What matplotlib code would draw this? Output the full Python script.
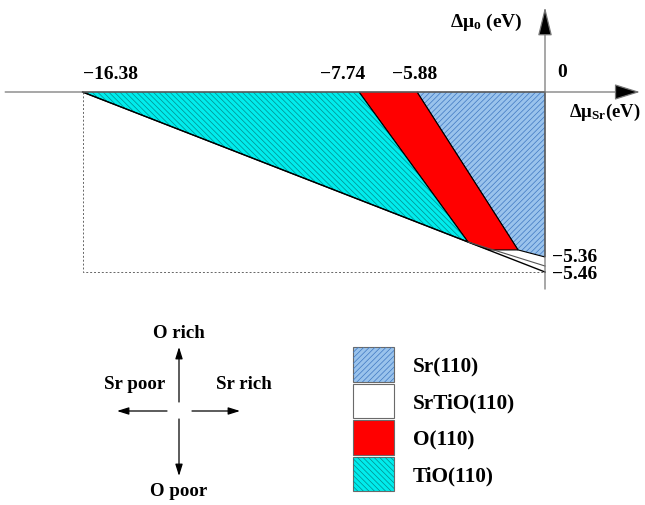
import numpy as np
import matplotlib
matplotlib.use('Agg')
import matplotlib.pyplot as plt
from matplotlib.patches import Patch

plt.rcParams['font.family'] = 'Liberation Serif'
plt.rcParams['font.weight'] = 'bold'
plt.rcParams['mathtext.fontset'] = 'custom'
plt.rcParams['mathtext.rm'] = 'Liberation Serif'
plt.rcParams['mathtext.it'] = 'Liberation Serif:italic'
plt.rcParams['mathtext.bf'] = 'Liberation Serif:bold'
plt.rcParams['hatch.linewidth'] = 0.5

# chemical potential limits (eV)
mu_sr_marks = [-16.38, -7.74, -5.88, 0.0]
mu_o_marks = [-5.46, -5.36, 0.0]

# surface stability regions: (dmu_Sr, dmu_O) corners
sr_region = ([-5.88, 0.0, 0.0, -1.24], [0.0, 0.0, -5.36, -5.13])
o_region = ([-7.74, -5.88, -1.24, -2.57, -3.54], [0.0, 0.0, -5.13, -5.13, -4.87])
tio_region = ([-16.38, -7.74, -3.54], [0.0, 0.0, -4.87])
srtio3_limit = ([-16.38, 0.0], [0.0, -5.46])
srtio_limit = ([-3.54, 0.0], [-4.87, -5.42])

surfaces = ['Sr(110)', 'SrTiO(110)', 'O(110)', 'TiO(110)']
face_cols = ['#9ac3ec', 'white', '#ff0000', '#00ecec']
hatch_cols = ['#3f78c2', None, None, '#008c8c']
hatches = ['//////', None, None, '\\\\\\\\\\\\']


def broken_axis(values, pos):
    # schematic (not to scale) axis: piecewise linear between the marked values
    def make(a, b):
        a = np.asarray(a, float)
        b = np.asarray(b, float)
        lo = (b[1] - b[0]) / (a[1] - a[0])
        hi = (b[-1] - b[-2]) / (a[-1] - a[-2])

        def f(v):
            v = np.asarray(v, float)
            out = np.interp(v, a, b)
            out = np.where(v < a[0], b[0] + (v - a[0]) * lo, out)
            return np.where(v > a[-1], b[-1] + (v - a[-1]) * hi, out)
        return f
    return make(values, pos), make(pos, values)


fig = plt.figure(figsize=(6.45, 5.06), dpi=100)
ax = fig.add_axes([0, 206 / 506, 1, 300 / 506])
fx, ix = broken_axis(mu_sr_marks, [82.5, 359, 417, 545])
fy, iy = broken_axis(mu_o_marks, [-273, -258, -93])
ax.set_xscale('function', functions=(fx, ix))
ax.set_yscale('function', functions=(fy, iy))
ax.set_xlim(float(ix(0)), float(ix(645)))
ax.set_ylim(float(iy(-300)), float(iy(0)))
ax.axis('off')

# axes with arrow heads
ax.annotate('', xy=(0.992, 0), xycoords=('axes fraction', 'data'),
            xytext=(0.008, 0), textcoords=('axes fraction', 'data'),
            arrowprops=dict(arrowstyle='-|>,head_length=0.8,head_width=0.25',
                            mutation_scale=20, ec='#777777', fc='black',
                            lw=0.9, shrinkA=0, shrinkB=0))
ax.annotate('', xy=(0, 0.973), xycoords=('data', 'axes fraction'),
            xytext=(0, 0.033), textcoords=('data', 'axes fraction'),
            arrowprops=dict(arrowstyle='-|>,head_length=0.9,head_width=0.22',
                            mutation_scale=20, ec='#777777', fc='black',
                            lw=0.9, shrinkA=0, shrinkB=0))

# bounding box of the allowed region
ax.plot([-16.38, -16.38, 0.0], [0.0, -5.46, -5.46], ls=(0, (2, 2)),
        color='#666666', lw=0.7)

regions = [sr_region, None, o_region, tio_region]
for reg, fc, hc, h in zip(regions, face_cols, hatch_cols, hatches):
    if reg is None:
        continue
    ax.fill(*reg, facecolor=fc, edgecolor='none', lw=0)
    if h:
        ax.fill(*reg, facecolor='none', edgecolor=hc, hatch=h, lw=0)
    ax.fill(*reg, facecolor='none', edgecolor='black', lw=0.8)

ax.plot(*srtio3_limit, color='black', lw=1.0)
ax.plot(*srtio_limit, color='#555555', lw=0.8)

tkw = dict(textcoords='offset points', fontsize=14, fontweight='bold', va='center')
ax.annotate('\u221216.38', xy=(-16.38, 0), xytext=(0, 13), ha='left', **tkw)
ax.annotate('\u22127.74', xy=(-7.74, 0), xytext=(-11.5, 13), ha='center', **tkw)
ax.annotate('\u22125.88', xy=(-5.88, 0), xytext=(-2, 13), ha='center', **tkw)
ax.annotate('0', xy=(0, 0), xytext=(12, 14.5), ha='center', **tkw)
ax.annotate('\u22125.36', xy=(0, -5.36), xytext=(5, 0), ha='left', **tkw)
ax.annotate('\u22125.46', xy=(0, -5.46), xytext=(5, -1), ha='left', **tkw)

ax.annotate(r'$\mathrm{\Delta\mu}_{\mathrm{o}}$ (eV)', xy=(0, 1),
            xycoords=('data', 'axes fraction'), xytext=(-16, -16),
            textcoords='offset points', ha='right', va='center',
            fontsize=14, fontweight='bold')
ax.annotate(r'$\mathrm{\Delta\mu}_{\mathbf{Sr}}$(eV)', xy=(0, 0),
            xytext=(17, -14), textcoords='offset points', ha='left',
            va='center', fontsize=13.5, fontweight='bold')

# direction key
ax2 = fig.add_axes([0, 0, 1, 206 / 506])
ax2.set_xlim(0, 645)
ax2.set_ylim(506, 300)
ax2.axis('off')
akw = dict(arrowstyle='-|>,head_length=0.7,head_width=0.22', mutation_scale=10,
           color='black', lw=0.9, shrinkA=0, shrinkB=0)
for tip, tail in [((179, 348), (179, 403)), ((179, 477), (179, 420)),
                  ((117, 412), (167, 412)), ((240, 412), (192, 412))]:
    ax2.annotate('', xy=tip, xytext=tail, arrowprops=akw)
ckw = dict(fontsize=13.6, fontweight='bold', ha='center', va='center')
ax2.text(179, 334, 'O rich', **ckw)
ax2.text(179, 492, 'O poor', **ckw)
ax2.text(135, 385, 'Sr poor', **ckw)
ax2.text(244, 385, 'Sr rich', **ckw)

handles = []
for fc, hc, h in zip(face_cols, hatch_cols, hatches):
    box = Patch(facecolor=fc, edgecolor='#6a6a6a', lw=0.8)
    if h:
        handles.append((box, Patch(facecolor='none', edgecolor=hc, hatch=h, lw=0)))
    else:
        handles.append(box)
fs = 15.3
fig.legend(handles, surfaces, loc='upper left',
           bbox_to_anchor=(353 / 645, 1 - 348 / 506), frameon=False,
           prop={'size': fs, 'weight': 'bold'}, handlelength=41 / (fs * 100 / 72),
           handleheight=2.13, labelspacing=0.09, handletextpad=0.9,
           borderpad=0, borderaxespad=0)

fig.savefig('out.png', dpi=100)
